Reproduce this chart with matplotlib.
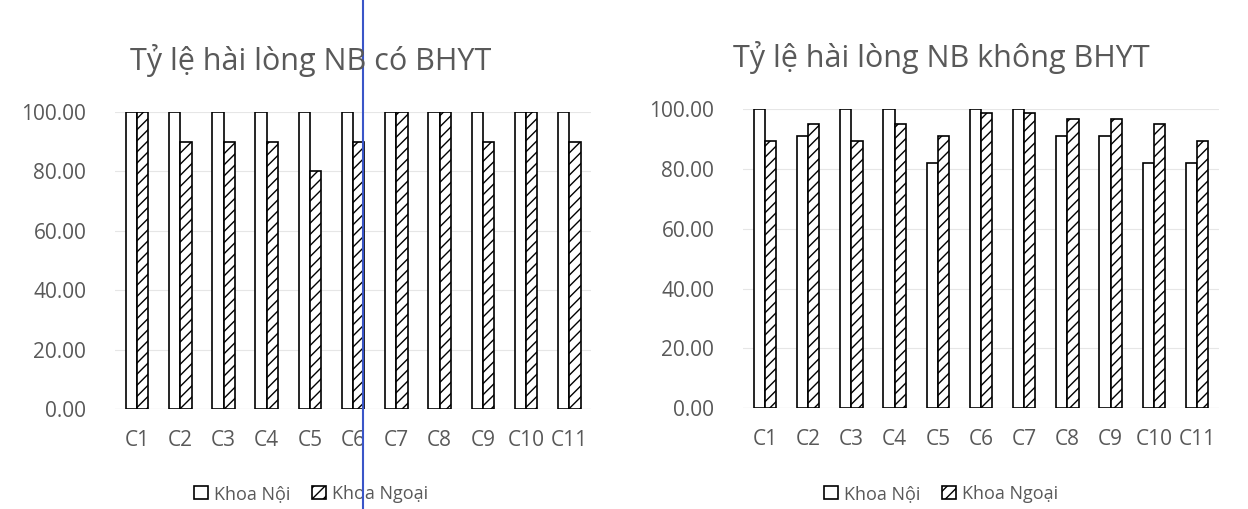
import numpy as np
import matplotlib
matplotlib.use("Agg")
import matplotlib.pyplot as plt
from matplotlib.lines import Line2D

plt.rcParams['font.family'] = ['Open Sans', 'DejaVu Sans']
plt.rcParams['hatch.linewidth'] = 1.0

# data
categories = ['C1', 'C2', 'C3', 'C4', 'C5', 'C6', 'C7', 'C8', 'C9', 'C10', 'C11']
series_names = ['Khoa Nội', 'Khoa Ngoại']

# left: NB có BHYT
bhyt_noi = [100, 100, 100, 100, 100, 100, 100, 100, 100, 100, 100]
bhyt_ngoai = [100, 90, 90, 90, 80, 90, 100, 100, 90, 100, 90]

# right: NB không BHYT
khong_noi = [100, 91, 100, 100, 82, 100, 100, 91, 91, 82, 82]
khong_ngoai = [89.3, 95, 89.3, 95, 91.2, 98.7, 98.7, 96.8, 96.8, 95, 89.3]

titles = ['Tỷ lệ hài lòng NB có BHYT', 'Tỷ lệ hài lòng NB không BHYT']
yticks = [0, 20, 40, 60, 80, 100]

text_col = '#595959'
grid_col = '#e6e6e6'


def draw_chart(fig, ax, noi, ngoai, title, cx, ty):
    x = np.arange(len(categories))
    w = 0.26
    ax.bar(x - w / 2, noi, w, color='white', edgecolor='black', linewidth=1.2,
           label=series_names[0], zorder=3)
    ax.bar(x + w / 2, ngoai, w, color='white', edgecolor='black', linewidth=1.2,
           hatch='///', label=series_names[1], zorder=3)
    ax.set_xlim(-0.5, len(categories) - 0.5)
    ax.set_ylim(0, 100)
    ax.set_yticks(yticks)
    ax.set_yticklabels(['%.2f' % v for v in yticks])
    ax.set_xticks(x)
    ax.set_xticklabels(categories)
    ax.tick_params(axis='y', length=0, pad=21, labelsize=15, labelcolor=text_col)
    ax.tick_params(axis='x', length=0, pad=15, labelsize=15, labelcolor=text_col)
    for s in ax.spines.values():
        s.set_visible(False)
    ax.grid(axis='y', color=grid_col, linewidth=0.8, zorder=0)
    ax.axhline(0, color='#d0d0d0', linewidth=0.8, zorder=1)
    # title and legend are centred on the chart area, not on the plot area
    fig.text(cx, ty, title, fontsize=22, color=text_col, ha='center', va='center')
    ax.legend(loc='center', bbox_to_anchor=(cx, 0.03), bbox_transform=fig.transFigure,
              ncol=2, frameon=False, fontsize=13, labelcolor=text_col,
              handlelength=0.8, handleheight=0.8, handletextpad=0.3,
              columnspacing=1.2)


fig = plt.figure(figsize=(12.48, 5.09), dpi=100)
ax1 = fig.add_axes([0.0925, 0.196, 0.381, 0.584])
ax2 = fig.add_axes([0.5957, 0.1984, 0.3808, 0.587])

draw_chart(fig, ax1, bhyt_noi, bhyt_ngoai, titles[0], 0.249, 0.882)
draw_chart(fig, ax2, khong_noi, khong_ngoai, titles[1], 0.754, 0.888)

# scanner line visible on the original
fig.add_artist(Line2D([363 / 1248, 363 / 1248], [0, 1], color='#3a55c8',
                      linewidth=1.5, transform=fig.transFigure))

fig.savefig('out.png', dpi=100, facecolor='white')
